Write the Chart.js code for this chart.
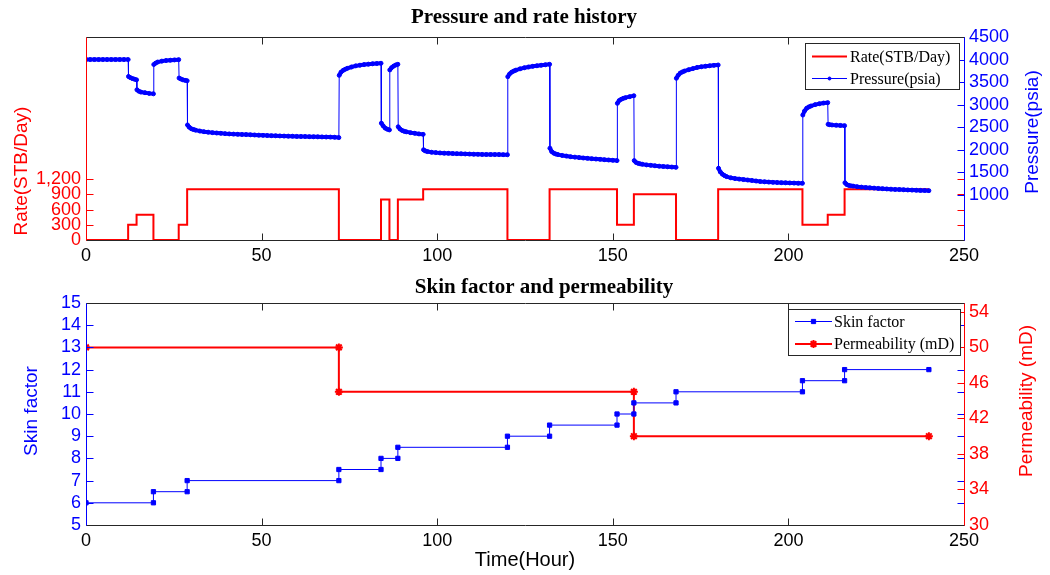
<!DOCTYPE html>
<html>
<head>
<meta charset="utf-8">
<title>Pressure and rate history</title>
<script src="https://cdn.jsdelivr.net/npm/chart.js@4.4.1/dist/chart.umd.min.js"></script>
<style>
  body { margin: 0; background: #fff; }
  canvas { position: absolute; left: 0; }
  #graficoArriba { top: 0; }
  #graficoAbajo { top: 270px; }
</style>
</head>
<body>
<canvas id="graficoArriba" width="1050" height="270"></canvas>
<canvas id="graficoAbajo" width="1050" height="305"></canvas>
<script>
// ---- datos ----
const horasTicks = [0, 50, 100, 150, 200, 250];

// caudal (escalones, el valor rige desde la hora indicada)
const caudalHoras = [0, 12, 14.4, 19.2, 26.4, 28.8, 72, 84, 86.4, 88.8, 96, 120, 132, 151.2, 156, 168, 180, 204, 211.2, 216, 240];
const caudalValores = [0, 300, 500, 0, 300, 1000, 0, 800, 0, 800, 1000, 0, 1000, 300, 900, 0, 1000, 300, 500, 1000, 1000];
const caudalTicks = [0, 300, 600, 900, 1200];
const caudalEtiquetas = ['0', '300', '600', '900', '1,200'];

// presion (una linea por periodo de flujo)
const presionHoras = [
  0, 1.2, 2.4, 3.6, 4.8, 6.0, 7.2, 8.4, 9.6, 10.8, 12.0,
  12.1, 12.6, 13.2, 13.8, 14.4,
  14.5, 15.0, 15.6, 16.8, 18.0, 19.2,
  19.3, 19.8, 20.4, 21.6, 22.8, 24.0, 25.2, 26.4,
  26.5, 27.0, 27.6, 28.2, 28.8,
  28.9, 29.4, 30.0, 30.6, 31.2, 32.4, 33.6, 34.8, 36.0, 37.2, 38.4, 39.6, 40.8, 42.0, 43.2, 44.4, 45.6, 46.8, 48.0, 49.2, 50.4, 51.6, 52.8, 54.0, 55.2, 56.4, 57.6, 58.8, 60.0, 61.2, 62.4, 63.6, 64.8, 66.0, 67.2, 68.4, 69.6, 70.8, 72.0,
  72.1, 72.6, 73.2, 73.8, 74.4, 75.6, 76.8, 78.0, 79.2, 80.4, 81.6, 82.8, 84.0,
  84.1, 84.6, 85.2, 85.8, 86.4,
  86.5, 87.0, 87.6, 88.2, 88.8,
  88.9, 89.4, 90.0, 90.6, 91.2, 92.4, 93.6, 94.8, 96.0,
  96.1, 96.6, 97.2, 98.4, 99.6, 100.8, 102.0, 103.2, 104.4, 105.6, 106.8, 108.0, 109.2, 110.4, 111.6, 112.8, 114.0, 115.2, 116.4, 117.6, 118.8, 120.0,
  120.1, 120.6, 121.2, 121.8, 122.4, 123.6, 124.8, 126.0, 127.2, 128.4, 129.6, 130.8, 132.0,
  132.1, 132.6, 133.2, 133.8, 134.4, 135.6, 136.8, 138.0, 139.2, 140.4, 141.6, 142.8, 144.0, 145.2, 146.4, 147.6, 148.8, 150.0, 151.2,
  151.3, 151.8, 152.4, 153.0, 153.6, 154.8, 156.0,
  156.1, 156.6, 157.2, 157.8, 158.4, 159.6, 160.8, 162.0, 163.2, 164.4, 165.6, 166.8, 168.0,
  168.1, 168.6, 169.2, 169.8, 170.4, 171.6, 172.8, 174.0, 175.2, 176.4, 177.6, 178.8, 180.0,
  180.1, 180.6, 181.2, 181.8, 182.4, 183.6, 184.8, 186.0, 187.2, 188.4, 189.6, 190.8, 192.0, 193.2, 194.4, 195.6, 196.8, 198.0, 199.2, 200.4, 201.6, 202.8, 204.0,
  204.1, 204.6, 205.2, 205.8, 206.4, 207.6, 208.8, 210.0, 211.2,
  211.3, 211.8, 212.4, 213.6, 214.8, 216.0,
  216.1, 216.6, 217.2, 217.8, 218.4, 219.6, 220.8, 222.0, 223.2, 224.4, 225.6, 226.8, 228.0, 229.2, 230.4, 231.6, 232.8, 234.0, 235.2, 236.4, 237.6, 238.8, 240.0
];
const presionValores = [
  4000, 4000, 4000, 4000, 4000, 4000, 4000, 4000, 4000, 4000, 4000,
  3625, 3600, 3580, 3565, 3550,
  3330, 3300, 3280, 3265, 3250, 3240,
  3890, 3920, 3945, 3965, 3978, 3985, 3992, 3998,
  3590, 3570, 3550, 3540, 3530,
  2550, 2500, 2465, 2450, 2435, 2415, 2400, 2390, 2380, 2372, 2365, 2358, 2352, 2347, 2343, 2340, 2336, 2332, 2328, 2324, 2320, 2316, 2313, 2310, 2307, 2304, 2302, 2300, 2297, 2295, 2293, 2291, 2289, 2287, 2285, 2283, 2281, 2278, 2270,
  3650, 3720, 3760, 3785, 3805, 3835, 3860, 3875, 3888, 3898, 3906, 3912, 3918,
  2590, 2530, 2480, 2455, 2440,
  3770, 3820, 3855, 3880, 3895,
  2510, 2460, 2430, 2410, 2398, 2380, 2365, 2352, 2342,
  2000, 1975, 1960, 1945, 1937, 1930, 1925, 1921, 1917, 1914, 1911, 1908, 1905, 1902, 1900, 1898, 1896, 1895, 1894, 1893, 1892, 1890,
  3620, 3680, 3720, 3745, 3765, 3795, 3818, 3835, 3850, 3862, 3874, 3884, 3894,
  2035, 1960, 1925, 1905, 1893, 1875, 1860, 1847, 1837, 1827, 1818, 1810, 1802, 1795, 1788, 1781, 1774, 1767, 1760,
  3030, 3090, 3120, 3140, 3155, 3178, 3198,
  1760, 1720, 1700, 1688, 1679, 1665, 1655, 1645, 1637, 1630, 1623, 1617, 1611,
  3585, 3650, 3700, 3725, 3745, 3775, 3800, 3825, 3840, 3852, 3862, 3872, 3880,
  1590, 1510, 1460, 1428, 1405, 1378, 1362, 1350, 1340, 1330, 1320, 1308, 1297, 1290, 1284, 1279, 1275, 1271, 1268, 1265, 1262, 1259, 1257,
  2770, 2860, 2920, 2950, 2970, 3000, 3020, 3035, 3045,
  2565, 2555, 2550, 2545, 2540, 2535,
  1270, 1230, 1210, 1200, 1195, 1182, 1172, 1163, 1156, 1150, 1144, 1138, 1132, 1127, 1122, 1118, 1114, 1110, 1106, 1103, 1100, 1097, 1094
];
const presionTicks = [1000, 1500, 2000, 2500, 3000, 3500, 4000, 4500];

// factor de dano y permeabilidad
const danoHoras = [0, 19.2, 19.2, 28.8, 28.8, 72, 72, 84, 84, 88.8, 88.8, 120, 120, 132, 132, 151.2, 151.2, 156, 156, 168, 168, 204, 204, 216, 216, 240];
const danoValores = [6, 6, 6.5, 6.5, 7, 7, 7.5, 7.5, 8, 8, 8.5, 8.5, 9, 9, 9.5, 9.5, 10, 10, 10.5, 10.5, 11, 11, 11.5, 11.5, 12, 12];
const danoTicks = [5, 6, 7, 8, 9, 10, 11, 12, 13, 14, 15];
const permHoras = [0, 72, 72, 156, 156, 240];
const permValores = [50, 50, 45, 45, 40, 40];
const permTicks = [30, 34, 38, 42, 46, 50, 54];

// ---- estilos comunes ----
const AZUL = '#0000ff';
const ROJO = '#ff0000';
const NEGRO = '#262626';
const SANS = "'Liberation Sans', Arial, sans-serif";
const SERIF = "'Liberation Serif', 'Times New Roman', serif";

function puntos(horas, valores) {
    return horas.map((h, i) => ({ x: h, y: valores[i] }));
}

function ejeX(alto) {
    return {
        type: 'linear', min: 0, max: 250,
        afterBuildTicks: s => { s.ticks = horasTicks.map(v => ({ value: v })); },
        ticks: { color: '#000', font: { family: SANS, size: 18 }, padding: 5, autoSkip: false, maxRotation: 0 },
        grid: { display: false, drawTicks: false },
        border: { display: false },
        afterFit: s => { s.height = alto; }
    };
}

function ejeY(posicion, min, max, ticks, etiquetas, color) {
    return {
        type: 'linear', position: posicion, min: min, max: max,
        afterBuildTicks: s => { s.ticks = ticks.map(v => ({ value: v })); },
        ticks: {
            color: color, font: { family: SANS, size: 18 }, padding: 5, autoSkip: false,
            callback: (v, i) => etiquetas[i]
        },
        grid: { display: false, drawTicks: false },
        border: { display: false },
        afterFit: s => { s.width = 86; }
    };
}

// marco con las marcas hacia adentro (estilo matlab)
function crearMarco(izq, der, colorIzq, colorDer) {
    return {
        id: 'marco',
        afterDatasetsDraw(chart) {
            const ctx = chart.ctx;
            const a = chart.chartArea;
            const L = 7;
            const x = chart.scales.x;
            const l = Math.round(a.left) + 0.5, r = Math.round(a.right) + 0.5;
            const t = Math.round(a.top) + 0.5, b = Math.round(a.bottom) + 0.5;
            ctx.save();
            ctx.lineWidth = 1;
            const linea = (x1, y1, x2, y2, color) => {
                ctx.strokeStyle = color;
                ctx.beginPath();
                ctx.moveTo(x1, y1);
                ctx.lineTo(x2, y2);
                ctx.stroke();
            };
            x.ticks.forEach(tk => {
                const px = Math.round(x.getPixelForValue(tk.value)) + 0.5;
                linea(px, b, px, b - L, NEGRO);
                linea(px, t, px, t + L, NEGRO);
            });
            chart.scales[izq].ticks.forEach(tk => {
                const py = Math.round(chart.scales[izq].getPixelForValue(tk.value)) + 0.5;
                linea(l, py, l + L, py, colorIzq);
                linea(r, py, r - L, py, colorIzq);
            });
            chart.scales[der].ticks.forEach(tk => {
                const py = Math.round(chart.scales[der].getPixelForValue(tk.value)) + 0.5;
                linea(r, py, r - L, py, colorDer);
            });
            linea(l, t, r, t, NEGRO);
            linea(l, b, r, b, NEGRO);
            linea(l, t, l, b, colorIzq);
            linea(r, t, r, b, colorDer);
            ctx.restore();
        }
    };
}

// titulos y nombres de ejes
function crearTextos(items) {
    return {
        id: 'textos',
        afterDraw(chart) {
            const ctx = chart.ctx;
            items.forEach(it => {
                ctx.save();
                ctx.translate(it.x, it.y);
                if (it.girar) ctx.rotate(-Math.PI / 2);
                ctx.font = it.font;
                ctx.fillStyle = it.color;
                ctx.textAlign = 'center';
                ctx.textBaseline = it.base || 'middle';
                ctx.fillText(it.texto, 0, 0);
                ctx.restore();
            });
        }
    };
}

// leyenda dentro del grafico
function crearLeyenda(caja, filas) {
    return {
        id: 'leyenda',
        afterDraw(chart) {
            const ctx = chart.ctx;
            ctx.save();
            ctx.fillStyle = '#fff';
            ctx.fillRect(caja.x, caja.y, caja.w, caja.h);
            ctx.strokeStyle = NEGRO;
            ctx.lineWidth = 1;
            ctx.strokeRect(caja.x + 0.5, caja.y + 0.5, caja.w, caja.h);
            filas.forEach(f => {
                const ds = chart.data.datasets[f.dataset];
                ctx.strokeStyle = ds.borderColor;
                ctx.lineWidth = ds.borderWidth;
                ctx.beginPath();
                ctx.moveTo(caja.x0, f.y);
                ctx.lineTo(caja.x1, f.y);
                ctx.stroke();
                if (f.marca) {
                    ctx.fillStyle = ds.borderColor;
                    ctx.lineWidth = ds.pointBorderWidth;
                    Chart.helpers.drawPoint(ctx, { pointStyle: ds.pointStyle, radius: f.radio || ds.pointRadius, borderWidth: ds.pointBorderWidth, rotation: 0 }, (caja.x0 + caja.x1) / 2, f.y);
                }
                ctx.fillStyle = '#000';
                ctx.font = '16px ' + SERIF;
                ctx.textAlign = 'left';
                ctx.textBaseline = 'middle';
                ctx.fillText(ds.label, caja.xt, f.y + 1);
            });
            ctx.restore();
        }
    };
}

// ---- grafico de presion y caudal ----
new Chart(document.getElementById('graficoArriba'), {
    type: 'line',
    data: {
        datasets: [{
            label: 'Rate(STB/Day)',
            data: puntos(caudalHoras, caudalValores),
            yAxisID: 'yCaudal',
            borderColor: ROJO,
            borderWidth: 2,
            stepped: true,
            pointRadius: 0,
            order: 1
        }, {
            label: 'Pressure(psia)',
            data: puntos(presionHoras, presionValores),
            yAxisID: 'yPresion',
            borderColor: AZUL,
            borderWidth: 1,
            // los tramos con muchos puntos se ven como una banda gruesa; los saltos quedan finos
            segment: {
                borderWidth: c => Math.abs(c.p1.parsed.y - c.p0.parsed.y) > 150 ? 1 : 4
            },
            pointRadius: 2,
            pointStyle: 'circle',
            pointBackgroundColor: AZUL,
            pointBorderColor: AZUL,
            pointBorderWidth: 1,
            order: 0
        }]
    },
    options: {
        responsive: false,
        animation: false,
        events: [],
        layout: { padding: { top: 37, left: 0, right: 0, bottom: 0 } },
        plugins: { legend: { display: false }, tooltip: { enabled: false } },
        scales: {
            x: ejeX(30),
            yCaudal: ejeY('left', 0, 4000, caudalTicks, caudalEtiquetas, ROJO),
            yPresion: ejeY('right', 0, 4500, presionTicks, presionTicks.map(String), AZUL)
        }
    },
    plugins: [
        crearMarco('yCaudal', 'yPresion', ROJO, AZUL),
        crearTextos([
            { texto: 'Pressure and rate history', x: 524, y: 23, base: 'alphabetic', font: 'bold 21px ' + SERIF, color: '#000' },
            { texto: 'Rate(STB/Day)', x: 22, y: 171, girar: true, font: '19px ' + SANS, color: ROJO },
            { texto: 'Pressure(psia)', x: 1033, y: 132, girar: true, font: '19px ' + SANS, color: AZUL }
        ]),
        crearLeyenda({ x: 805, y: 43, w: 154, h: 46, x0: 812, x1: 847, xt: 850 }, [
            { dataset: 0, y: 56.5, marca: false },
            { dataset: 1, y: 78.5, marca: true, radio: 1.5 }
        ])
    ]
});

// ---- grafico de dano y permeabilidad ----
new Chart(document.getElementById('graficoAbajo'), {
    type: 'line',
    data: {
        datasets: [{
            label: 'Skin factor',
            data: puntos(danoHoras, danoValores),
            yAxisID: 'yDano',
            borderColor: AZUL,
            borderWidth: 1,
            pointStyle: 'rect',
            pointRadius: 3,
            pointBackgroundColor: AZUL,
            pointBorderColor: AZUL,
            pointBorderWidth: 1,
            order: 0
        }, {
            label: 'Permeability (mD)',
            data: puntos(permHoras, permValores),
            yAxisID: 'yPerm',
            borderColor: ROJO,
            borderWidth: 2,
            pointStyle: 'star',
            pointRadius: 4,
            pointBackgroundColor: ROJO,
            pointBorderColor: ROJO,
            pointBorderWidth: 2,
            order: 1
        }]
    },
    options: {
        responsive: false,
        animation: false,
        events: [],
        layout: { padding: { top: 33, left: 0, right: 0, bottom: 0 } },
        plugins: { legend: { display: false }, tooltip: { enabled: false } },
        scales: {
            x: ejeX(50),
            yDano: ejeY('left', 5, 15, danoTicks, danoTicks.map(String), AZUL),
            yPerm: ejeY('right', 30, 55, permTicks, permTicks.map(String), ROJO)
        }
    },
    plugins: [
        crearMarco('yDano', 'yPerm', AZUL, ROJO),
        crearTextos([
            { texto: 'Skin factor and permeability', x: 544, y: 23, base: 'alphabetic', font: 'bold 21px ' + SERIF, color: '#000' },
            { texto: 'Skin factor', x: 32, y: 141, girar: true, font: '19px ' + SANS, color: AZUL },
            { texto: 'Permeability (mD)', x: 1027, y: 131, girar: true, font: '19px ' + SANS, color: ROJO },
            { texto: 'Time(Hour)', x: 525, y: 296, base: 'alphabetic', font: '20px ' + SANS, color: '#000' }
        ]),
        crearLeyenda({ x: 788, y: 39, w: 172, h: 46, x0: 795, x1: 832, xt: 834 }, [
            { dataset: 0, y: 51.5, marca: true },
            { dataset: 1, y: 74, marca: true }
        ])
    ]
});
</script>
</body>
</html>
